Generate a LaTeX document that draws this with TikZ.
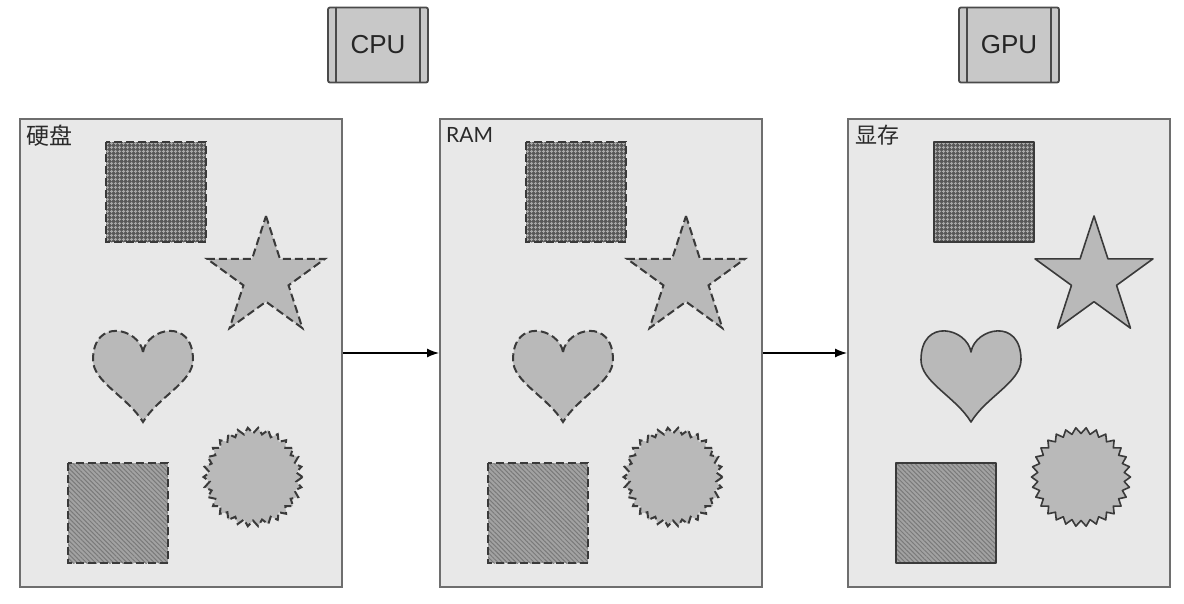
\documentclass[tikz,border=0pt]{standalone}
\usepackage{fontspec}
\setmainfont{Liberation Sans}
\newfontfamily\cjkfont{Noto Sans CJK SC}
\newfontfamily\latofont{Lato}
\usetikzlibrary{patterns.meta,arrows.meta}
\definecolor{panelfill}{HTML}{E8E8E8}
\definecolor{panelline}{HTML}{6E6E6E}
\definecolor{chipfill}{HTML}{C8C8C8}
\definecolor{chipline}{HTML}{4A4A4A}
\definecolor{shapefill}{HTML}{B9B9B9}
\definecolor{edgecol}{HTML}{3A3A3A}
\definecolor{gridbg}{HTML}{585858}
\definecolor{gridlight}{HTML}{A8A8A8}
\definecolor{hatchbg}{HTML}{A2A2A2}
\definecolor{hatchdark}{HTML}{7A7A7A}
\definecolor{txtcol}{HTML}{2A2A2A}
\tikzset{
  panel/.style={draw=panelline, line width=2pt, fill=panelfill, minimum width=322pt, minimum height=468pt, inner sep=0pt},
  chip/.style={draw=chipline, line width=1.8pt, fill=chipfill, rounded corners=2pt, minimum width=100pt, minimum height=75pt, inner sep=0pt, font=\fontsize{26}{30}\selectfont, text=black!85},
  chipbar/.style={draw=chipline, line width=1.6pt},
  lbl/.style={inner sep=0pt, text=txtcol},
  conn/.style={draw=black, line width=1.3pt, -{Latex[length=12pt,width=9pt]}},
  shapeline/.style={draw=edgecol, line width=2pt, dash pattern=on 8pt off 4pt},
  shapeset/.pic={
    \draw[shapeline, preaction={fill=gridbg}, pattern={Hatch[angle=0,distance=4pt,line width=1.1pt]}, pattern color=gridlight] (87,24) rectangle (187,124);
    \draw[shapeline, fill=shapefill] plot[samples=10, domain=0:9, variable=\k] ({247+(42.85+19.15*cos(180*\k))*sin(36*\k)}, {160-(42.85+19.15*cos(180*\k))*cos(36*\k)}) -- cycle;
    \draw[shapeline, fill=shapefill] (124,234) .. controls (128,210) and (174,199) .. (174,242) .. controls (174,264) and (139,279) .. (124,304) .. controls (109,279) and (74,264) .. (74,242) .. controls (74,199) and (120,210) .. (124,234) -- cycle;
    \draw[shapeline, preaction={fill=hatchbg}, pattern={Lines[angle=-45,distance=3.2pt,line width=1pt]}, pattern color=hatchdark] (49,345) rectangle (149,445);
    \draw[shapeline, fill=shapefill] plot[samples=60, domain=0:59, variable=\k] ({234+(46.5+3*cos(180*\k))*cos(6*\k)}, {359+(46.5+3*cos(180*\k))*sin(6*\k)}) -- cycle;
  }
}
\begin{document}
\begin{tikzpicture}[x=1pt,y=-1pt]
\useasboundingbox[fill=white] (0,0) rectangle (1184,603);

% chips
\node[chip] (cpu) at (378,45) {CPU};
\draw[chipbar] ([xshift=9pt]cpu.north west) -- ([xshift=9pt]cpu.south west);
\draw[chipbar] ([xshift=-9pt]cpu.north east) -- ([xshift=-9pt]cpu.south east);
\node[chip] (gpu) at (1009,45) {GPU};
\draw[chipbar] ([xshift=9pt]gpu.north west) -- ([xshift=9pt]gpu.south west);
\draw[chipbar] ([xshift=-9pt]gpu.north east) -- ([xshift=-9pt]gpu.south east);

% panels
\node[panel] (hd) at (181,353) {};
\node[panel] (ram) at (601,353) {};
\node[panel] (vram) at (1009,353) {};

\node[lbl, anchor=north west, font=\cjkfont\fontsize{23}{25}\selectfont] (hdl) at ([xshift=7pt,yshift=-7pt]hd.north west) {硬盘};
\node[lbl, anchor=north west, font=\latofont\fontsize{21}{23}\selectfont] (raml) at ([xshift=7pt,yshift=-9pt]ram.north west) {RAM};
\node[lbl, anchor=north west, font=\cjkfont\fontsize{22}{24}\selectfont] (vraml) at ([xshift=8pt,yshift=-7pt]vram.north west) {显存};

% shapes
\begin{scope}
  \pic at (hd.north west) {shapeset};
  \pic at (ram.north west) {shapeset};
\end{scope}
\begin{scope}[shapeline/.style={draw=edgecol, line width=1.6pt, line join=round}]
  \pic at (vram.north west) {shapeset};
\end{scope}

% connectors
\draw[conn] (hd.east) -- (ram.west);
\draw[conn] (ram.east) -- (vram.west);
\end{tikzpicture}
\end{document}
